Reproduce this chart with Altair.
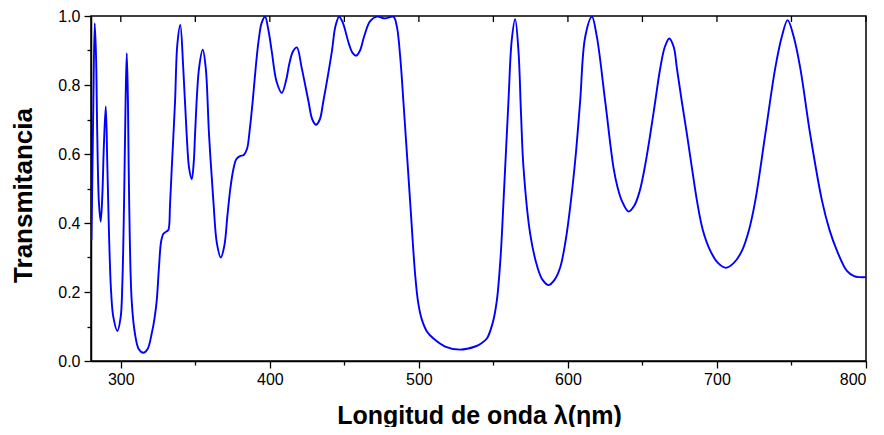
import altair as alt
import pandas as pd

wavelength = [
    280.3, 281.5, 282.5, 283.4, 284.2, 285.3, 286.5, 287.6, 288.6, 289.9,
    291.0, 292.2, 293.5, 295.0, 297.7, 299.9, 301.0, 302.2, 303.2, 304.0,
    304.8, 305.6, 307.3, 309.5, 312.0, 315.1, 318.0, 320.7, 322.5, 324.1,
    325.6, 327.0, 328.5, 330.5, 331.9, 333.0, 334.2, 336.4, 337.9, 339.9,
    341.9, 344.2, 345.8, 347.6, 349.0, 349.8, 352.5, 355.0, 357.0, 359.2,
    362.1, 364.5, 367.1, 369.5, 371.5, 373.5, 375.5, 377.5, 380.0, 382.5,
    384.7, 386.5, 388.5, 390.5, 392.5, 394.5, 396.8, 399.0, 401.3, 404.5,
    408.0, 411.0, 413.0, 415.5, 418.1, 421.4, 425.9, 428.5, 431.0, 433.5,
    435.9, 441.6, 444.0, 446.5, 449.0, 453.0, 455.5, 457.9, 460.5, 463.2,
    467.3, 471.8, 477.3, 482.9, 485.2, 487.5, 489.6, 494.1, 497.5, 499.5,
    502.0, 505.5, 509.8, 517.6, 527.7, 537.8, 541.5, 545.6, 549.5, 552.3,
    554.8, 556.8, 560.1, 562.3, 564.6, 566.8, 568.5, 570.2, 574.7, 579.6,
    583.0, 587.0, 591.0, 594.8, 598.5, 602.0, 605.3, 608.2, 611.6, 616.1,
    619.4, 625.0, 630.6, 633.5, 636.2, 640.7, 644.5, 648.0, 651.5, 655.0,
    658.5, 662.0, 665.0, 668.0, 671.0, 673.1, 676.5, 679.9, 683.2, 686.6,
    690.5, 695.5, 700.5, 706.0, 711.5, 716.8, 721.5, 725.7, 732.4, 739.1,
    743.5, 747.4, 751.5, 755.9, 762.6, 770.5, 775.5, 780.5, 787.2, 792.0,
    796.0, 800.0,
]
transmittance = [
    0.35, 0.72, 0.979, 0.88, 0.656, 0.46, 0.404, 0.48, 0.62, 0.738,
    0.56, 0.35, 0.20, 0.127, 0.087, 0.127, 0.22, 0.464, 0.75, 0.892,
    0.75, 0.464, 0.175, 0.079, 0.035, 0.024, 0.035, 0.079, 0.12, 0.175,
    0.271, 0.345, 0.368, 0.375, 0.38, 0.45, 0.56, 0.753, 0.916, 0.974,
    0.849, 0.656, 0.56, 0.527, 0.58, 0.656, 0.849, 0.902, 0.849, 0.656,
    0.464, 0.34, 0.300, 0.335, 0.42, 0.50, 0.555, 0.585, 0.594, 0.597,
    0.615, 0.67, 0.753, 0.85, 0.93, 0.98, 0.998, 0.96, 0.897, 0.81,
    0.777, 0.815, 0.86, 0.897, 0.909, 0.849, 0.753, 0.70, 0.685, 0.70,
    0.753, 0.897, 0.97, 0.998, 0.98, 0.92, 0.893, 0.885, 0.90, 0.94,
    0.985, 0.998, 0.993, 0.998, 0.97, 0.88, 0.753, 0.464, 0.25, 0.17,
    0.12, 0.085, 0.065, 0.042, 0.033, 0.042, 0.05, 0.065, 0.11, 0.175,
    0.30, 0.464, 0.753, 0.93, 0.991, 0.90, 0.72, 0.56, 0.368, 0.271,
    0.235, 0.220, 0.235, 0.271, 0.35, 0.464, 0.60, 0.753, 0.94, 0.998,
    0.94, 0.753, 0.56, 0.50, 0.464, 0.433, 0.45, 0.49, 0.56, 0.65,
    0.75, 0.85, 0.91, 0.935, 0.91, 0.849, 0.75, 0.656, 0.56, 0.464,
    0.38, 0.32, 0.285, 0.27, 0.285, 0.32, 0.38, 0.464, 0.656, 0.849,
    0.94, 0.988, 0.94, 0.849, 0.656, 0.464, 0.38, 0.32, 0.261, 0.246,
    0.243, 0.243,
]

x_ticks = [300, 350, 400, 450, 500, 550, 600, 650, 700, 750, 800]
y_ticks = [0.0, 0.1, 0.2, 0.3, 0.4, 0.5, 0.6, 0.7, 0.8, 0.9, 1.0]

x_title = "Longitud de onda λ(ηm)"
y_title = "Transmitancia"

df = pd.DataFrame({"wl": wavelength, "T": transmittance})
top_ticks = pd.DataFrame({"t": x_ticks})

FONT = "Liberation Sans"
xscale = alt.Scale(domain=[280, 800], nice=False, zero=False)
yscale = alt.Scale(domain=[0, 1], nice=False, zero=False)

x_axis = alt.Axis(
    values=x_ticks,
    title=x_title,
    labelExpr="datum.value % 100 === 0 ? datum.label : ''",
    format="d",
    grid=False,
    tickSize={"condition": {"test": "datum.value % 100 === 0", "value": 7}, "value": 4},
    tickColor="black",
    tickWidth=1.3,
    domainColor="black",
    domainWidth=1.5,
    labelFont=FONT,
    labelFontSize=16,
    labelColor="black",
    labelPadding=3,
    titleFont=FONT,
    titleFontSize=25,
    titleFontWeight="bold",
    titleColor="black",
    titleX=388,
    titleY=62,
    titleBaseline="alphabetic",
    titleAlign="center",
)

y_axis = alt.Axis(
    values=y_ticks,
    title=y_title,
    labelExpr="round(datum.value * 10) % 2 === 0 ? format(datum.value, '.1f') : ''",
    grid=False,
    tickSize={"condition": {"test": "round(datum.value * 10) % 2 === 0", "value": 7}, "value": 4},
    tickColor="black",
    tickWidth=1.3,
    domainColor="black",
    domainWidth=1.5,
    labelFont=FONT,
    labelFontSize=16,
    labelColor="black",
    labelPadding=4,
    titleFont=FONT,
    titleFontSize=26,
    titleFontWeight="bold",
    titleColor="black",
    titleAngle=270,
    titleX=-60,
    titleY=179,
    titleBaseline="alphabetic",
    titleAlign="center",
)

line = alt.Chart(df).mark_line(
    color="#0000ff", strokeWidth=1.9, interpolate="catmull-rom", clip=True
).encode(
    x=alt.X("wl:Q", scale=xscale, axis=x_axis),
    y=alt.Y("T:Q", scale=yscale, axis=y_axis),
)

top = alt.Chart(top_ticks).mark_rule(color="black", strokeWidth=1.3).encode(
    x=alt.X("t:Q", scale=xscale),
    y=alt.value(0),
    y2=alt.value(6),
)

chart = alt.layer(line, top).properties(
    width=775,
    height=345,
    autosize=alt.AutoSizeParams(type="none"),
    padding={"left": 83, "top": 8, "right": 10, "bottom": 66},
    background="white",
).configure_view(stroke="black", strokeWidth=1.5)

chart.save("out.html", embed_options={"renderer": "svg", "actions": False})
